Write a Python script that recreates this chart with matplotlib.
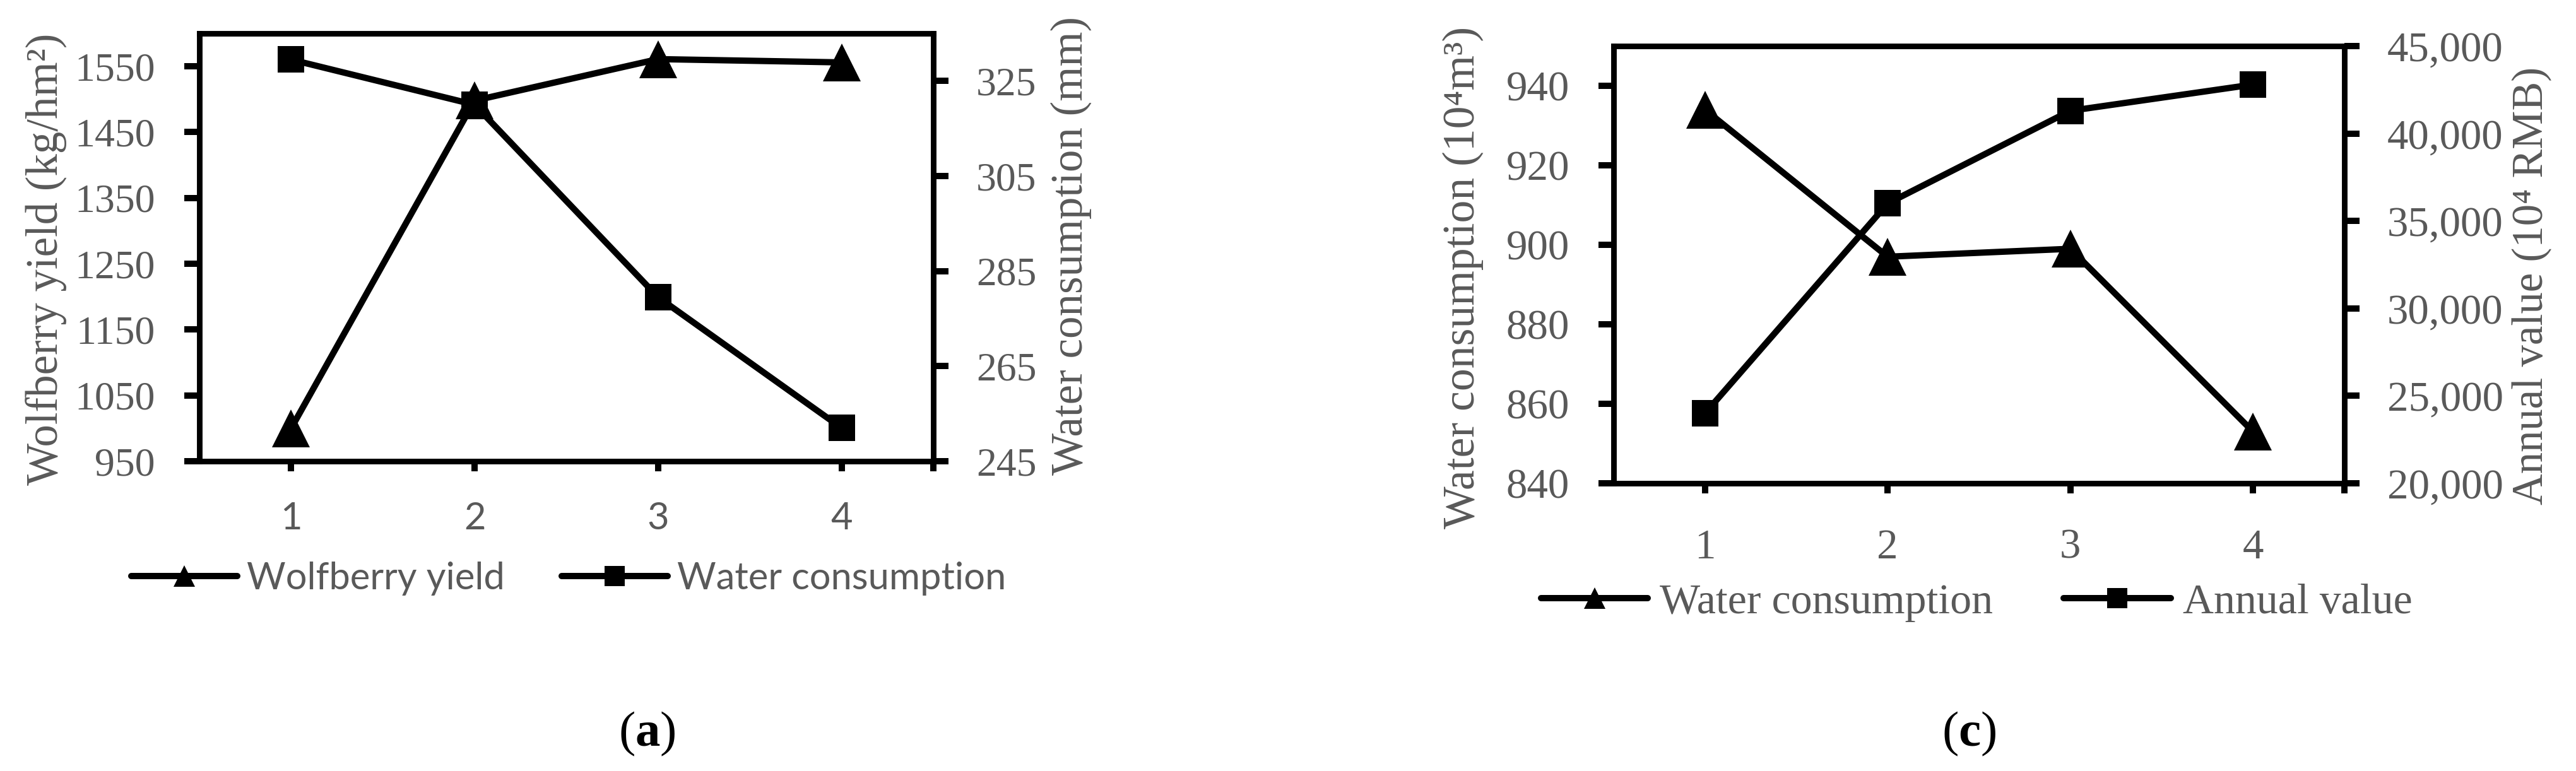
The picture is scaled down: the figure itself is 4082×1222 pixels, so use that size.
import matplotlib
matplotlib.use('Agg')
import matplotlib.pyplot as plt
from matplotlib.lines import Line2D

# data
treat = [1, 2, 3, 4]
yield_a = [1000, 1498, 1561, 1556]        # kg/hm2, left axis (a)
water_a = [329.5, 320, 279.5, 252]         # mm, right axis (a)
water_c = [934, 897, 899, 853]             # 10^4 m3, left axis (c)
annual_c = [24000, 36000, 41300, 42800]    # 10^4 RMB, right axis (c)

yticks_a1 = [950, 1050, 1150, 1250, 1350, 1450, 1550]
yticks_a2 = [245, 265, 285, 305, 325]
yticks_c1 = [840, 860, 880, 900, 920, 940]
yticks_c2 = [20000, 25000, 30000, 35000, 40000, 45000]

SERIF = ['Liberation Serif', 'DejaVu Serif']
SANS = ['Lato', 'DejaVu Sans']
GREY = '#595959'

plt.rcParams['mathtext.fontset'] = 'custom'
plt.rcParams['mathtext.rm'] = 'Liberation Serif'
plt.rcParams['mathtext.bf'] = 'Liberation Serif:bold'

W, H = 4082, 1222
fig = plt.figure(figsize=(W / 300, H / 300), dpi=300)

LW = 2.4
TRI = 14.6
SQ = 10.0


def style_axes(ax, ax2, tsize, xfont, xsize, xpad):
    for a in (ax, ax2):
        for s in a.spines.values():
            s.set_linewidth(2.05)
    ax.set_xlim(0.5, 4.5)
    ax.set_xticks(treat)
    ax.set_xticks([4.5], minor=True)
    ax.tick_params(axis='x', which='both', direction='out', length=3.8, width=2.4,
                   pad=xpad, labelcolor=GREY, labelsize=xsize)
    for t in ax.get_xticklabels():
        t.set_family(xfont)
    ax.tick_params(axis='y', direction='out', length=5.8, width=2.4, pad=11,
                   labelcolor=GREY, labelsize=tsize)
    ax2.tick_params(axis='y', direction='out', length=5.8, width=2.4, pad=10.5,
                    labelcolor=GREY, labelsize=tsize)
    for t in ax.get_yticklabels() + ax2.get_yticklabels():
        t.set_family(SERIF)


# ---------- panel (a) ----------
ax = fig.add_axes([316 / W, 1 - 731 / H, 1163 / W, 678 / H])
ax2 = ax.twinx()
ax.plot(treat, yield_a, color='black', lw=LW, marker='^', ms=TRI, mew=0, zorder=3)
ax2.plot(treat, water_a, color='black', lw=LW, marker='s', ms=SQ, mew=0, zorder=3)
ax.set_ylim(950, 1600)
ax.set_yticks(yticks_a1)
ax2.set_ylim(245, 335)
ax2.set_yticks(yticks_a2)
style_axes(ax, ax2, 15.3, SANS, 14.3, 11.5)

ax.set_ylabel('Wolfberry yield (kg/hm²)', family=SERIF, fontsize=17, color=GREY)
ax.yaxis.set_label_coords(-0.208, 0.472)
ax.yaxis.label.set_verticalalignment('center')
ax2.set_ylabel('Water consumption (mm)', family=SERIF, fontsize=17, color=GREY)
ax2.yaxis.set_label_coords(1.188, 0.503)
ax2.yaxis.label.set_verticalalignment('center')

h_a = [Line2D([], [], color='black', lw=LW, marker='^', ms=8.2, mew=0, solid_capstyle='round'),
       Line2D([], [], color='black', lw=LW, marker='s', ms=7.9, mew=0, solid_capstyle='round')]
fig.legend(h_a, ['Wolfberry yield', 'Water consumption'], loc='center',
           bbox_to_anchor=(901 / W, 1 - 917 / H), ncol=2, frameon=False,
           prop={'family': SANS, 'size': 14.3}, handlelength=2.82,
           handletextpad=0.26, columnspacing=1.5, labelcolor=GREY)

fig.text(1025 / W, 1 - 1163 / H, r'($\mathbf{a}$)', ha='center', va='center',
         fontsize=19, family=SERIF)

# ---------- panel (c) ----------
bx = fig.add_axes([2557 / W, 1 - 766 / H, 1158 / W, 693 / H])
bx2 = bx.twinx()
bx.plot(treat, water_c, color='black', lw=LW, marker='^', ms=TRI, mew=0, zorder=3)
bx2.plot(treat, annual_c, color='black', lw=LW, marker='s', ms=SQ, mew=0, zorder=3)
bx.set_ylim(840, 950)
bx.set_yticks(yticks_c1)
bx2.set_ylim(20000, 45000)
bx2.set_yticks(yticks_c2)
bx2.set_yticklabels([f'{v:,}' for v in yticks_c2])
style_axes(bx, bx2, 16.1, SERIF, 16.1, 13.4)

bx.set_ylabel('Water consumption (10⁴m³)', family=SERIF, fontsize=17.2, color=GREY)
bx.yaxis.set_label_coords(-0.2064, 0.470)
bx.yaxis.label.set_verticalalignment('center')
bx2.set_ylabel('Annual value (10⁴ RMB)', family=SERIF, fontsize=16.5, color=GREY)
bx2.yaxis.set_label_coords(1.2565, 0.4517)
bx2.yaxis.label.set_verticalalignment('center')

h_c = [Line2D([], [], color='black', lw=LW, marker='^', ms=8.2, mew=0, solid_capstyle='round'),
       Line2D([], [], color='black', lw=LW, marker='s', ms=7.9, mew=0, solid_capstyle='round')]
fig.legend(h_c, ['Water consumption', 'Annual value'], loc='center',
           bbox_to_anchor=(3132 / W, 1 - 955 / H), ncol=2, frameon=False,
           prop={'family': SERIF, 'size': 16.3}, handlelength=2.5,
           handletextpad=0.27, columnspacing=1.66, labelcolor=GREY)

fig.text(3120 / W, 1 - 1163 / H, r'($\mathbf{c}$)', ha='center', va='center',
         fontsize=19, family=SERIF)

fig.savefig('out.png', dpi=300, facecolor='white')
